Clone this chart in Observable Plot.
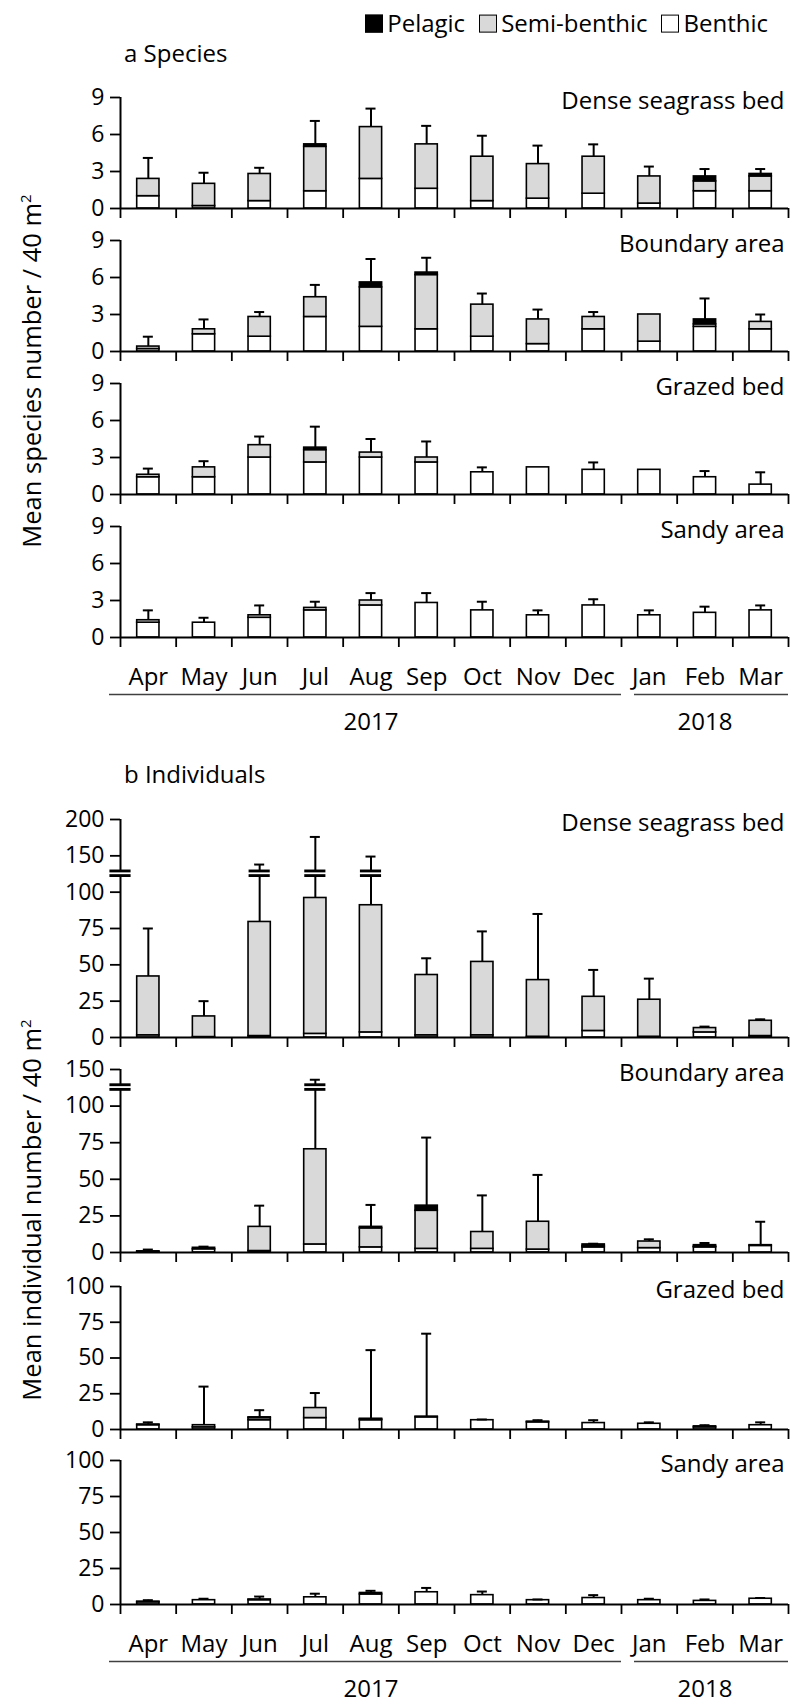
<!DOCTYPE html>
<html><head><meta charset="utf-8">
<script src="https://cdn.jsdelivr.net/npm/d3@7"></script>
<script src="https://cdn.jsdelivr.net/npm/@observablehq/plot@0.6"></script>
<style>
body{margin:0;background:#fff;}
#fig{position:relative;width:798px;height:1705px;font-family:"Open Sans",sans-serif;color:#000;overflow:hidden;background:#fff;}
.abs{position:absolute;white-space:nowrap;line-height:1.2;}
.plot{position:absolute;left:0;}
.sw{display:inline-block;width:16px;height:16px;border:1.5px solid #000;margin-right:4px;vertical-align:-1px;}
</style></head><body><div id="fig"></div>
<script>
// ---------- data ----------
const months = ["Apr","May","Jun","Jul","Aug","Sep","Oct","Nov","Dec","Jan","Feb","Mar"];
const monthYear = ["2017","2017","2017","2017","2017","2017","2017","2017","2017","2018","2018","2018"];
const sites = ["Dense seagrass bed","Boundary area","Grazed bed","Sandy area"];
const groups = ["Pelagic","Semi-benthic","Benthic"];

// a Species (mean species number / 40 m2): segment values + upper error (SD)
const aDenseB  = [1.0,0.2,0.6,1.4,2.4,1.6,0.6,0.8,1.2,0.4,1.4,1.4];
const aDenseS  = [1.4,1.8,2.2,3.6,4.2,3.6,3.6,2.8,3.0,2.2,0.8,1.2];
const aDenseP  = [0,0,0,0.2,0,0,0,0,0,0,0.4,0.2];
const aDenseSD = [1.7,0.9,0.5,1.9,1.5,1.5,1.7,1.5,1.0,0.8,0.6,0.4];

const aBoundB  = [0.2,1.4,1.2,2.8,2.0,1.8,1.2,0.6,1.8,0.8,2.0,1.8];
const aBoundS  = [0.2,0.4,1.6,1.6,3.2,4.4,2.6,2.0,1.0,2.2,0.2,0.6];
const aBoundP  = [0,0,0,0,0.4,0.2,0,0,0,0,0.4,0];
const aBoundSD = [0.8,0.8,0.4,1.0,1.9,1.2,0.9,0.8,0.4,0,1.7,0.6];

const aGrazB  = [1.4,1.4,3.0,2.6,3.0,2.6,1.8,2.2,2.0,2.0,1.4,0.8];
const aGrazS  = [0.2,0.8,1.0,1.0,0.4,0.4,0,0,0,0,0,0];
const aGrazP  = [0,0,0,0.2,0,0,0,0,0,0,0,0];
const aGrazSD = [0.5,0.5,0.7,1.7,1.1,1.3,0.4,0,0.6,0,0.5,1.0];

const aSandB  = [1.2,1.2,1.6,2.2,2.6,2.8,2.2,1.8,2.6,1.8,2.0,2.2];
const aSandS  = [0.2,0,0.2,0.2,0.4,0,0,0,0,0,0,0];
const aSandP  = [0,0,0,0,0,0,0,0,0,0,0,0];
const aSandSD = [0.8,0.4,0.8,0.5,0.6,0.8,0.7,0.4,0.5,0.4,0.5,0.4];

// b Individuals (mean individual number / 40 m2)
const bDenseB  = [1.5,0.3,1,2.5,3.5,1.5,1.5,0.5,4.5,0.5,3.5,1];
const bDenseS  = [40.5,14.2,78.5,93.5,87.5,41.5,50.5,39,23.5,25.5,3,10.5];
const bDenseP  = [0,0,0,0,0,0,0,0,0,0,0,0];
const bDenseSD = [33,10.5,58.5,80,58,11.5,21,45.5,18.5,14.5,1,1];

const bBoundB  = [0.3,2.2,1,5.5,3.5,2.5,2.5,2,3.5,3,3.5,4.5];
const bBoundS  = [0.5,1,16.5,65,13,26,11.5,19,1,4.5,0.5,0.5];
const bBoundP  = [0,0,0,0,1,3.5,0,0,1,0,1,0];
const bBoundSD = [1.2,0.8,14.5,65.5,15,46.5,25,32,0.5,1.5,1.5,16];

const bGrazB  = [3,1.5,6.5,8,6.5,8.5,6.5,5,4.5,4,1.5,3];
const bGrazS  = [0.5,1.5,1.5,7,0.5,0.5,0,0.5,0,0,0.7,0];
const bGrazP  = [0,0,0.5,0,0.5,0,0,0,0,0,0,0];
const bGrazSD = [1.5,27,5,10.5,48,58,0.5,1,2,1,0.8,2];

const bSandB  = [1.5,3,3,5,7,8.5,6.5,3,4.5,3,2.5,4];
const bSandS  = [0.5,0,0.5,0,1,0,0,0,0,0,0,0];
const bSandP  = [0,0,0,0,0,0,0,0,0,0,0,0];
const bSandSD = [1,1,2,2.5,1.5,3,2.5,0.5,2,1,1,0.5];

const aTicks = [0,3,6,9];
const bTicks1 = [0,25,50,75,100,150,200];
const bTicks2 = [0,25,50,75,100,150];
const bTicks3 = [0,25,50,75,100];
const axisBreak = 126;

// ---------- style ----------
const FILLS = ["#000000","#d9d9d9","#ffffff"];
const FONT = '"Open Sans", sans-serif';
const fig = document.getElementById("fig");

function buildRows(B, S, P, SD) {
  return months.map((m, i) => ({i, month: m, b: B[i], s: S[i], p: P[i], total: B[i] + S[i] + P[i], sd: SD[i]}));
}
function segments(rows) {
  const out = [];
  for (const r of rows) {
    let y = 0;
    [["Benthic", r.b], ["Semi-benthic", r.s], ["Pelagic", r.p]].forEach(([g, v]) => {
      if (v > 0) out.push({i: r.i, group: g, y1: y, y2: y + v});
      y += v;
    });
  }
  return out;
}
const spans = d3.groups(months.map((m, i) => ({i, y: monthYear[i]})), d => d.y)
  .map(([year, arr]) => ({year, start: arr[0].i, end: arr[arr.length - 1].i + 1}));

function makePlot({rows, label, yTicks, frameH, bottom, top, broken}) {
  const MT = 26, MB = bottom ? 112 : 16;
  const H = MT + frameH + MB;
  // broken axis: equal spacing between tick labels (piecewise linear between ticks)
  const pos = d3.scaleLinear().domain(yTicks).range(yTicks.map((v, k) => k));
  const nT = yTicks.length - 1;
  const segs = segments(rows);
  const errs = rows.filter(r => r.sd > 0);
  const marks = [
    Plot.rect(segs, {x1: d => d.i + 0.3, x2: d => d.i + 0.7, y1: d => pos(d.y1), y2: d => pos(d.y2), fill: "group", stroke: "#000", strokeWidth: 1.6}),
    Plot.ruleX(errs, {x: d => d.i + 0.5, y1: d => pos(d.total), y2: d => pos(d.total + d.sd), stroke: "#000", strokeWidth: 2}),
    Plot.ruleY(errs, {y: d => pos(d.total + d.sd), x1: d => d.i + 0.5 - 0.09, x2: d => d.i + 0.5 + 0.09, stroke: "#000", strokeWidth: 2}),
    Plot.ruleX([0], {y1: 0, y2: nT, stroke: "#000", strokeWidth: 2}),
    Plot.ruleY([0], {x1: 0, x2: months.length, stroke: "#000", strokeWidth: 2}),
    Plot.axisY({ticks: d3.range(nT + 1), tickFormat: k => String(yTicks[k]), tickSize: 10, tickPadding: 6, fontSize: 23, stroke: "#000", strokeWidth: 1.8, fill: "#000"}),
    Plot.axisX({ticks: d3.range(months.length + 1), tickSize: 10, tickFormat: () => "", stroke: "#000", strokeWidth: 1.8}),
    Plot.text([label], {frameAnchor: "top-right", text: d => d, dx: -4, dy: 4, lineAnchor: "middle", textAnchor: "end", fontSize: 24, fill: "#000"})
  ];
  if (broken) {
    const br = [{x: 0}].concat(errs.filter(r => r.total + r.sd > axisBreak).map(r => ({x: r.i + 0.5})));
    marks.push(Plot.ruleY(br, {y: () => pos(axisBreak), x1: d => d.x - 0.19, x2: d => d.x + 0.19, stroke: "#000", strokeWidth: 7.5}));
    marks.push(Plot.ruleY(br, {y: () => pos(axisBreak), x1: d => d.x - 0.21, x2: d => d.x + 0.21, stroke: "#fff", strokeWidth: 1.8}));
  }
  if (bottom) {
    marks.push(Plot.text(months, {x: (d, i) => i + 0.5, frameAnchor: "bottom", text: d => d, dy: 40, lineAnchor: "middle", fontSize: 24, fill: "#000"}));
    marks.push(Plot.ruleY(spans.slice(0, 1), {y: () => 0, x1: "start", x2: "end", dy: 57, insetLeft: -11, stroke: "#404040", strokeWidth: 1.6}));
    marks.push(Plot.ruleY(spans.slice(1), {y: () => 0, x1: "start", x2: "end", dy: 57, insetLeft: 13, stroke: "#404040", strokeWidth: 1.6}));
    marks.push(Plot.text(spans, {x: d => (d.start + d.end) / 2, y: () => 0, text: "year", dy: 85, lineAnchor: "middle", fontSize: 24, fill: "#000"}));
  }
  const svg = Plot.plot({
    width: 798, height: H, marginLeft: 120, marginRight: 10, marginTop: MT, marginBottom: MB,
    style: {fontFamily: FONT, fontSize: "24px", color: "#000", background: "transparent", overflow: "visible"},
    x: {domain: [0, months.length], axis: null},
    y: {domain: [0, nT], axis: null},
    color: {domain: groups, range: FILLS},
    marks
  });
  svg.classList.add("plot");
  svg.style.top = (top - MT) + "px";
  fig.appendChild(svg);
}

function addText(html, left, top) {
  const d = document.createElement("div");
  d.className = "abs";
  d.innerHTML = html;
  d.style.cssText += `left:${left}px;top:${top}px;font-size:24px;transform:translateY(-50%);`;
  fig.appendChild(d);
  return d;
}

// legend
const lg = document.createElement("div");
lg.className = "abs";
lg.style.cssText += "right:30px;top:23px;font-size:24px;transform:translateY(-50%);";
lg.innerHTML = groups.map((g, k) => `<span style="margin-left:${k ? 14 : 0}px"><span class="sw" style="background:${FILLS[k]}"></span>${g}</span>`).join("");
fig.appendChild(lg);

addText("a Species", 124, 53);
addText("b Individuals", 124, 774);

// y titles
function yTitle(html, cy) {
  const d = document.createElement("div");
  d.className = "abs";
  d.innerHTML = html;
  d.style.cssText += `left:31px;top:${cy}px;font-size:25.5px;transform:translate(-50%,-50%) rotate(-90deg);`;
  fig.appendChild(d);
}
yTitle('Mean species number / 40 m<sup style="font-size:15px">2</sup>', 371);
yTitle('Mean individual number / 40 m<sup style="font-size:15px">2</sup>', 1210);

// panel a
const aRows = [
  buildRows(aDenseB, aDenseS, aDenseP, aDenseSD),
  buildRows(aBoundB, aBoundS, aBoundP, aBoundSD),
  buildRows(aGrazB, aGrazS, aGrazP, aGrazSD),
  buildRows(aSandB, aSandS, aSandP, aSandSD)
];
const aTops = [97, 240, 383, 526];
aRows.forEach((rows, k) => makePlot({rows, label: sites[k], yTicks: aTicks, frameH: 111, bottom: k === 3, top: aTops[k]}));

// panel b
const bRows = [
  buildRows(bDenseB, bDenseS, bDenseP, bDenseSD),
  buildRows(bBoundB, bBoundS, bBoundP, bBoundSD),
  buildRows(bGrazB, bGrazS, bGrazP, bGrazSD),
  buildRows(bSandB, bSandS, bSandP, bSandSD)
];
const bCfg = [
  {yTicks: bTicks1, frameH: 218, top: 819, broken: true},
  {yTicks: bTicks2, frameH: 183, top: 1069, broken: true},
  {yTicks: bTicks3, frameH: 143, top: 1286},
  {yTicks: bTicks3, frameH: 144, top: 1460}
];
bRows.forEach((rows, k) => makePlot({rows, label: sites[k], ...bCfg[k], bottom: k === 3}));
</script></body></html>
